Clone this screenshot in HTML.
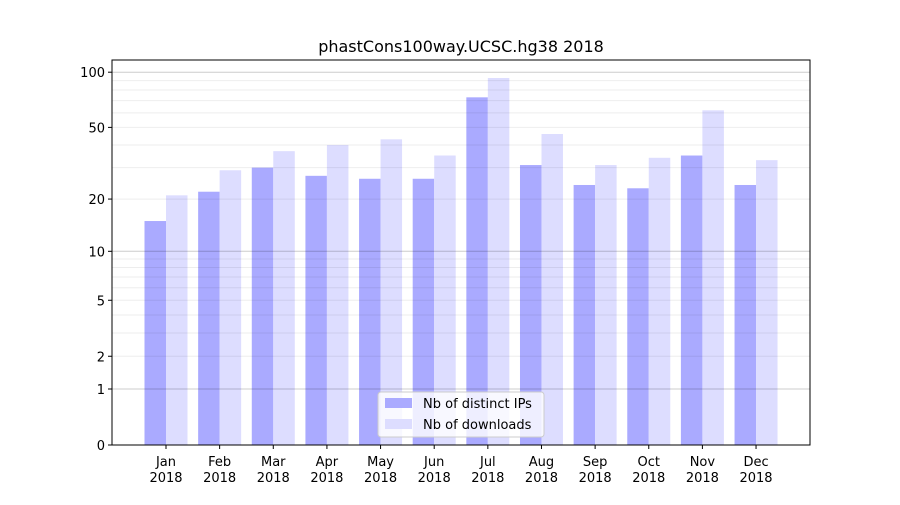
<!DOCTYPE html>
<html><head><meta charset="utf-8"><style>
body{margin:0;background:#fff}
text{font-family:"DejaVu Sans","Liberation Sans",sans-serif;}
</style></head><body>
<svg id="chart" width="900" height="500" xmlns="http://www.w3.org/2000/svg">
<text x="461" y="52" text-anchor="middle" font-size="16">phastCons100way.UCSC.hg38 2018</text>
<g id="bars"></g><g id="grid"></g><g id="axes"></g>
</svg>
<script>
const months=["Jan","Feb","Mar","Apr","May","Jun","Jul","Aug","Sep","Oct","Nov","Dec"];
const ips=[15,22,30,27,26,26,73,31,24,23,35,24];
const downloads=[21,29,37,40,43,35,93,46,31,34,62,33];
const yTicks=[0,1,2,5,10,20,50,100];
const NS="http://www.w3.org/2000/svg";
const L=112,R=810,T=60,B=445;
function y(v){return B-186*Math.log10(v+1);}
function xc(i){return 166+i*53.64;}
function mk(tag,attrs,parent){const e=document.createElementNS(NS,tag);for(const k in attrs)e.setAttribute(k,attrs[k]);parent.appendChild(e);return e;}
const grid=document.getElementById('grid'),bars=document.getElementById('bars'),axes=document.getElementById('axes');
const minors=[];for(const d of [1,10]){for(let m=2;m<=9;m++)minors.push(m*d);}
minors.forEach(v=>{const g=mk('line',{x1:L,x2:R,y1:y(v),y2:y(v),stroke:'#000','stroke-opacity':0.07,'stroke-width':1},grid);

});
[1,10,100].forEach(v=>{const g=mk('line',{x1:L,x2:R,y1:y(v),y2:y(v),stroke:'#000','stroke-opacity':0.2,'stroke-width':1},grid);

});
months.forEach((m,i)=>{
const b1=mk('rect',{x:xc(i)-21.5,y:y(ips[i]),width:21.5,height:B-y(ips[i]),fill:'#aaaaff'},bars);


const b2=mk('rect',{x:xc(i),y:y(downloads[i]),width:21.5,height:B-y(downloads[i]),fill:'#ddddff'},bars);


mk('line',{x1:xc(i),x2:xc(i),y1:B,y2:B+4,stroke:'#000'},axes);
const t=mk('text',{x:xc(i),y:B+21,'text-anchor':'middle','font-size':13},axes);


mk('tspan',{x:xc(i),dy:0},t).textContent=m;
mk('tspan',{x:xc(i),dy:16},t).textContent='2018';
});
yTicks.forEach(v=>{mk('line',{x1:L-4,x2:L,y1:y(v),y2:y(v),stroke:'#000'},axes);
const t=mk('text',{x:L-7,y:y(v)+5,'text-anchor':'end','font-size':13},axes);t.textContent=v;

});
const fr=mk('rect',{x:L,y:T,width:R-L,height:B-T,fill:'none',stroke:'#000','stroke-width':1},axes);


const lg=mk('g',{},axes);


mk('rect',{x:378,y:392,width:166,height:45,rx:3,fill:'#fff','fill-opacity':0.8,stroke:'#ccc'},lg);
mk('rect',{x:385,y:398,width:27,height:10,fill:'#aaaaff'},lg);
mk('rect',{x:385,y:419,width:27,height:10,fill:'#ddddff'},lg);
const l1=mk('text',{x:423,y:408,'font-size':13},lg);l1.textContent='Nb of distinct IPs';


const l2=mk('text',{x:423,y:429,'font-size':13},lg);l2.textContent='Nb of downloads';


</script>
</body></html>
